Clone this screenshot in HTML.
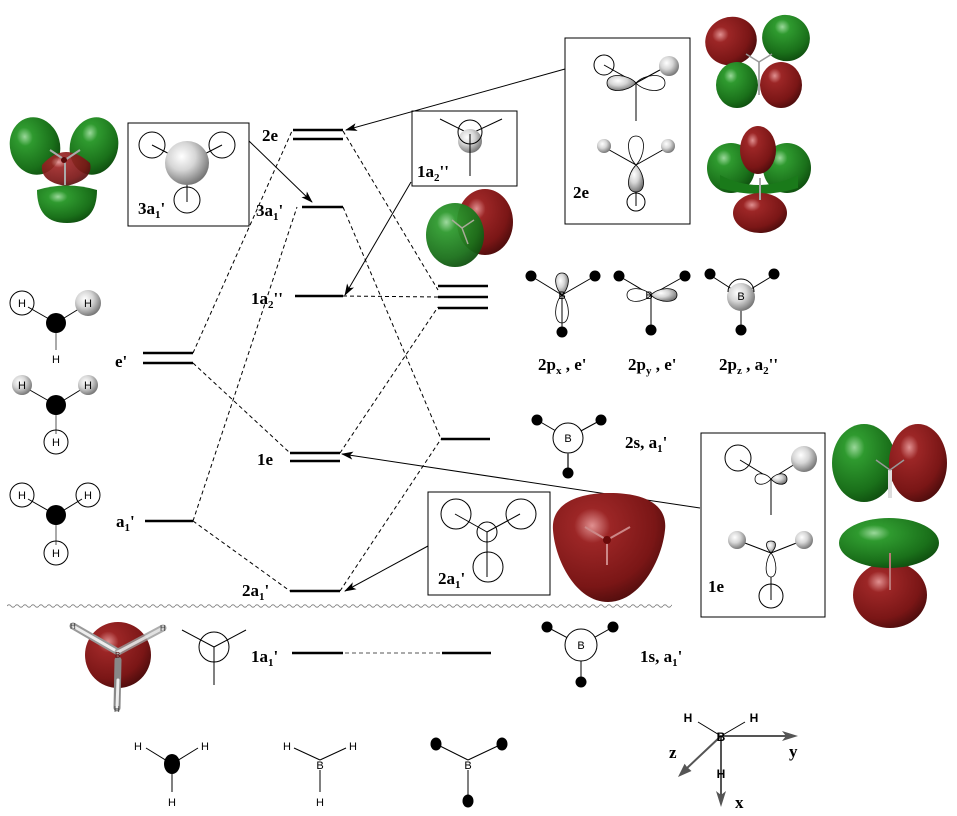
<!DOCTYPE html>
<html><head><meta charset="utf-8">
<style>
html,body{margin:0;padding:0;background:#fff}
svg{display:block}
.L{font-family:"Liberation Serif",serif;font-weight:bold;font-size:17px;fill:#000}
.H{font-family:"Liberation Sans",sans-serif;font-size:11px;fill:#000}
</style></head>
<body>
<svg width="957" height="816" viewBox="0 0 957 816" xmlns="http://www.w3.org/2000/svg">
<defs>
  <radialGradient id="gg" cx="0.35" cy="0.3" r="0.8">
    <stop offset="0" stop-color="#9ad89a"/><stop offset="0.2" stop-color="#2f9a2f"/><stop offset="0.7" stop-color="#1a701a"/><stop offset="1" stop-color="#0c460c"/>
  </radialGradient>
  <radialGradient id="rg" cx="0.35" cy="0.3" r="0.8">
    <stop offset="0" stop-color="#e09090"/><stop offset="0.2" stop-color="#9c2626"/><stop offset="0.7" stop-color="#7a1616"/><stop offset="1" stop-color="#420a0a"/>
  </radialGradient>
  <radialGradient id="gs" cx="0.38" cy="0.35" r="0.7">
    <stop offset="0" stop-color="#ffffff"/><stop offset="0.45" stop-color="#d6d6d6"/><stop offset="1" stop-color="#6e6e6e"/>
  </radialGradient>
  <marker id="ah" markerWidth="12" markerHeight="8" refX="11" refY="4" orient="auto" markerUnits="userSpaceOnUse">
    <path d="M0,0 L12,4 L0,8 L3,4 Z" fill="#000"/>
  </marker>
  <pattern id="wave" x="7" y="603" width="8" height="6" patternUnits="userSpaceOnUse">
    <path d="M0,3 Q2,0.5 4,3 T8,3" fill="none" stroke="#888" stroke-width="1"/>
  </pattern>
</defs>

<!-- ===== top-left 3a1' orbital ===== -->
<ellipse cx="35" cy="146" rx="25" ry="29" fill="url(#gg)" transform="rotate(-15 35 146)"/>
<ellipse cx="94" cy="146" rx="24" ry="29" fill="url(#gg)" transform="rotate(15 94 146)"/>
<path d="M42,165 Q64,140 90,163 Q94,180 66,186 Q40,182 42,165Z" fill="url(#rg)" opacity="0.92"/>
<path d="M37,190 Q37,223 67,223 Q97,223 97,190 Q67,181 37,190Z" fill="url(#gg)"/>
<line x1="65" y1="160" x2="50" y2="150" stroke="#aaa" stroke-width="2"/>
<line x1="65" y1="160" x2="80" y2="150" stroke="#aaa" stroke-width="2"/>
<line x1="65" y1="160" x2="65" y2="185" stroke="#aaa" stroke-width="2"/>
<circle cx="64" cy="160" r="3" fill="#5a0a0a"/>

<!-- 3a1' box -->
<rect x="128" y="123" width="121" height="103" fill="none" stroke="#000" stroke-width="1"/>
<circle cx="152" cy="145" r="13" fill="none" stroke="#000"/>
<circle cx="222" cy="145" r="13" fill="none" stroke="#000"/>
<circle cx="187" cy="200" r="13" fill="none" stroke="#000"/>
<line x1="187" y1="163" x2="152" y2="145" stroke="#000"/>
<line x1="187" y1="163" x2="222" y2="145" stroke="#000"/>
<line x1="187" y1="163" x2="187" y2="202" stroke="#000"/>
<circle cx="187" cy="163" r="22" fill="url(#gs)"/>
<text class="L" x="138" y="214">3a<tspan font-size="11" dy="4">1</tspan><tspan dy="-4">'</tspan></text>

<!-- ===== 1a2'' box ===== -->
<rect x="412" y="111" width="105" height="75" fill="none" stroke="#000"/>
<line x1="470" y1="134" x2="440" y2="119" stroke="#000"/>
<line x1="470" y1="134" x2="502" y2="119" stroke="#000"/>
<circle cx="470" cy="141" r="12" fill="url(#gs)"/>
<circle cx="470" cy="132" r="12" fill="none" stroke="#000"/>
<line x1="470" y1="134" x2="470" y2="176" stroke="#000"/>
<text class="L" x="417" y="177">1a<tspan font-size="11" dy="4">2</tspan><tspan dy="-4">''</tspan></text>

<!-- 1a2'' orbital -->
<ellipse cx="485" cy="222" rx="28" ry="33" fill="url(#rg)"/>
<ellipse cx="455" cy="235" rx="29" ry="32" fill="url(#gg)" opacity="0.95"/>
<line x1="462" y1="228" x2="452" y2="220" stroke="#aa9" stroke-width="1.5"/>
<line x1="462" y1="228" x2="474" y2="220" stroke="#aa9" stroke-width="1.5"/>
<line x1="462" y1="228" x2="468" y2="244" stroke="#aa9" stroke-width="1.5"/>

<!-- ===== 2e box ===== -->
<rect x="565" y="38" width="125" height="186" fill="none" stroke="#000"/>
<circle cx="604" cy="65" r="10" fill="none" stroke="#000"/>
<line x1="636" y1="83" x2="604" y2="65" stroke="#000"/>
<line x1="636" y1="83" x2="669" y2="65" stroke="#000"/>
<circle cx="669" cy="66" r="10" fill="url(#gs)"/>
<line x1="636" y1="83" x2="636" y2="121" stroke="#000"/>
<path d="M636,83 C628,74 607,72 607,83 C607,94 628,92 636,83Z" fill="url(#gs)" stroke="#000" stroke-width="0.8"/>
<path d="M636,83 C644,74 665,72 665,83 C665,94 644,92 636,83Z" fill="none" stroke="#000" stroke-width="0.8"/>
<line x1="636" y1="165" x2="604" y2="147" stroke="#000"/>
<line x1="636" y1="165" x2="668" y2="147" stroke="#000"/>
<circle cx="604" cy="146" r="7" fill="url(#gs)"/>
<circle cx="668" cy="146" r="7" fill="url(#gs)"/>
<path d="M636,165 C627,156 625,136 636,136 C647,136 645,156 636,165Z" fill="#fff" stroke="#000" stroke-width="0.8"/>
<path d="M636,165 C627,174 625,192 636,192 C647,192 645,174 636,165Z" fill="url(#gs)" stroke="#000" stroke-width="0.8"/>
<line x1="636" y1="192" x2="636" y2="206" stroke="#000"/>
<circle cx="636" cy="202" r="9" fill="none" stroke="#000"/>
<text class="L" x="573" y="198">2e</text>

<!-- 2e orbitals -->
<ellipse cx="731" cy="41" rx="26" ry="24" fill="url(#rg)" transform="rotate(-20 731 41)"/>
<ellipse cx="786" cy="38" rx="24" ry="23" fill="url(#gg)" transform="rotate(20 786 38)"/>
<ellipse cx="737" cy="85" rx="21" ry="23" fill="url(#gg)"/>
<ellipse cx="781" cy="85" rx="21" ry="23" fill="url(#rg)"/>
<line x1="759" y1="62" x2="759" y2="95" stroke="#aaa" stroke-width="2"/>
<line x1="759" y1="62" x2="746" y2="54" stroke="#999" stroke-width="1.5"/>
<line x1="759" y1="62" x2="772" y2="54" stroke="#999" stroke-width="1.5"/>

<ellipse cx="731" cy="168" rx="24" ry="25" fill="url(#gg)"/>
<ellipse cx="787" cy="168" rx="24" ry="25" fill="url(#gg)"/>
<path d="M720,175 Q758,195 798,175 L798,188 Q758,200 720,188Z" fill="#1a7a1a"/>
<ellipse cx="760" cy="213" rx="27" ry="20" fill="url(#rg)"/>
<ellipse cx="758" cy="150" rx="18" ry="24" fill="url(#rg)"/>
<line x1="760" y1="178" x2="760" y2="200" stroke="#aaa" stroke-width="2"/>

<!-- ===== levels ===== -->
<g stroke="#000" stroke-width="2.5">
  <line x1="293" y1="130" x2="343" y2="130"/>
  <line x1="293" y1="139" x2="343" y2="139"/>
  <line x1="302" y1="207" x2="343" y2="207"/>
  <line x1="295" y1="296" x2="343" y2="296"/>
  <line x1="290" y1="453" x2="340" y2="453"/>
  <line x1="290" y1="461" x2="340" y2="461"/>
  <line x1="290" y1="591" x2="340" y2="591"/>
  <line x1="143" y1="353" x2="193" y2="353"/>
  <line x1="143" y1="363" x2="193" y2="363"/>
  <line x1="145" y1="521" x2="193" y2="521"/>
  <line x1="438" y1="286" x2="488" y2="286"/>
  <line x1="438" y1="297" x2="488" y2="297"/>
  <line x1="438" y1="308" x2="488" y2="308"/>
  <line x1="441" y1="439" x2="490" y2="439"/>
  <line x1="292" y1="653" x2="343" y2="653"/>
  <line x1="442" y1="653" x2="491" y2="653"/>
</g>

<!-- dashed connectors -->
<g stroke="#000" stroke-width="1" stroke-dasharray="4 3" fill="none">
  <line x1="193" y1="353" x2="292" y2="131"/>
  <line x1="193" y1="363" x2="290" y2="453"/>
  <line x1="193" y1="521" x2="297" y2="207"/>
  <line x1="193" y1="521" x2="290" y2="591"/>
  <line x1="343" y1="131" x2="438" y2="290"/>
  <line x1="343" y1="207" x2="441" y2="439"/>
  <line x1="343" y1="296" x2="438" y2="297"/>
  <line x1="340" y1="453" x2="438" y2="307"/>
  <line x1="340" y1="591" x2="441" y2="439"/>
  <line x1="345" y1="653" x2="440" y2="653" stroke="#555"/>
</g>

<!-- arrows -->
<g stroke="#000" stroke-width="1" marker-end="url(#ah)">
  <line x1="565" y1="69" x2="346" y2="130"/>
  <line x1="249" y1="141" x2="312" y2="202"/>
  <line x1="411" y1="182" x2="345" y2="295"/>
  <line x1="700" y1="508" x2="342" y2="454"/>
  <line x1="428" y1="546" x2="345" y2="591"/>
</g>

<!-- level labels -->
<text class="L" x="262" y="141">2e</text>
<text class="L" x="256" y="216">3a<tspan font-size="11" dy="4">1</tspan><tspan dy="-4">'</tspan></text>
<text class="L" x="251" y="304">1a<tspan font-size="11" dy="4">2</tspan><tspan dy="-4">''</tspan></text>
<text class="L" x="257" y="465">1e</text>
<text class="L" x="242" y="596">2a<tspan font-size="11" dy="4">1</tspan><tspan dy="-4">'</tspan></text>
<text class="L" x="251" y="662">1a<tspan font-size="11" dy="4">1</tspan><tspan dy="-4">'</tspan></text>
<text class="L" x="115" y="367">e'</text>
<text class="L" x="116" y="527">a<tspan font-size="11" dy="4">1</tspan><tspan dy="-4">'</tspan></text>

<!-- ===== left H3 fragments ===== -->
<g stroke="#000" stroke-width="1">
  <line x1="56" y1="323" x2="28" y2="307"/><line x1="56" y1="323" x2="82" y2="307"/><line x1="56" y1="323" x2="56" y2="350" stroke="#555"/>
  <line x1="56" y1="405" x2="28" y2="389"/><line x1="56" y1="405" x2="82" y2="389"/><line x1="56" y1="405" x2="56" y2="434" stroke="#555"/>
  <line x1="56" y1="515" x2="28" y2="499"/><line x1="56" y1="515" x2="82" y2="499"/><line x1="56" y1="515" x2="56" y2="545" stroke="#555"/>
</g>
<circle cx="22" cy="303" r="12" fill="none" stroke="#000"/>
<circle cx="88" cy="303" r="13" fill="url(#gs)"/>
<circle cx="56" cy="323" r="10" fill="#000"/>
<text class="H" x="22" y="307" text-anchor="middle">H</text>
<text class="H" x="88" y="307" text-anchor="middle">H</text>
<text class="H" x="56" y="363" text-anchor="middle">H</text>

<circle cx="22" cy="385" r="10" fill="url(#gs)"/>
<circle cx="88" cy="385" r="10" fill="url(#gs)"/>
<circle cx="56" cy="442" r="12" fill="none" stroke="#000"/>
<circle cx="56" cy="405" r="10" fill="#000"/>
<text class="H" x="22" y="389" text-anchor="middle">H</text>
<text class="H" x="88" y="389" text-anchor="middle">H</text>
<text class="H" x="56" y="446" text-anchor="middle">H</text>

<circle cx="22" cy="495" r="12" fill="none" stroke="#000"/>
<circle cx="88" cy="495" r="12" fill="none" stroke="#000"/>
<circle cx="56" cy="553" r="12" fill="none" stroke="#000"/>
<circle cx="56" cy="515" r="10" fill="#000"/>
<text class="H" x="22" y="499" text-anchor="middle">H</text>
<text class="H" x="88" y="499" text-anchor="middle">H</text>
<text class="H" x="56" y="557" text-anchor="middle">H</text>

<!-- ===== boron p orbitals ===== -->
<!-- 2px -->
<g stroke="#000" stroke-width="1">
  <line x1="562" y1="295" x2="531" y2="276"/><line x1="562" y1="295" x2="595" y2="276"/><line x1="562" y1="295" x2="562" y2="332"/>
</g>
<path d="M562,295 C554,302 553,323 562,323 C571,323 570,302 562,295Z" fill="#fff" stroke="#000" stroke-width="0.8"/>
<line x1="562" y1="295" x2="562" y2="332" stroke="#000"/>
<path d="M562,295 C554,288 553,273 562,273 C571,273 570,288 562,295Z" fill="url(#gs)" stroke="#000" stroke-width="0.8"/>
<circle cx="531" cy="276" r="5.5" fill="#000"/><circle cx="595" cy="276" r="5.5" fill="#000"/><circle cx="562" cy="332" r="5.5" fill="#000"/>
<text class="H" x="562" y="299" text-anchor="middle">B</text>
<!-- 2py -->
<g stroke="#000" stroke-width="1">
  <line x1="651" y1="295" x2="619" y2="276"/><line x1="651" y1="295" x2="685" y2="276"/><line x1="651" y1="295" x2="651" y2="330"/>
</g>
<path d="M651,295 C644,287 627,286 627,295 C627,304 644,303 651,295Z" fill="#fff" stroke="#000" stroke-width="0.8"/>
<path d="M651,295 C658,287 677,286 677,295 C677,304 658,303 651,295Z" fill="url(#gs)" stroke="#000" stroke-width="0.8"/>
<circle cx="619" cy="276" r="5.5" fill="#000"/><circle cx="685" cy="276" r="5.5" fill="#000"/><circle cx="651" cy="330" r="5.5" fill="#000"/>
<text class="H" x="649" y="299" text-anchor="middle">B</text>
<!-- 2pz -->
<g stroke="#000" stroke-width="1">
  <line x1="741" y1="295" x2="710" y2="275"/><line x1="741" y1="295" x2="774" y2="275"/><line x1="741" y1="295" x2="741" y2="330"/>
</g>
<circle cx="741" cy="297" r="14" fill="url(#gs)"/>
<path d="M728,292 A13,13 0 0 1 754,292" fill="none" stroke="#000"/>
<circle cx="710" cy="274" r="5.5" fill="#000"/><circle cx="774" cy="274" r="5.5" fill="#000"/><circle cx="741" cy="330" r="5.5" fill="#000"/>
<text class="H" x="741" y="300" text-anchor="middle">B</text>

<text class="L" x="538" y="370">2p<tspan font-size="11" dy="4">x</tspan><tspan dy="-4"> , e'</tspan></text>
<text class="L" x="628" y="370">2p<tspan font-size="11" dy="4">y</tspan><tspan dy="-4"> , e'</tspan></text>
<text class="L" x="719" y="370">2p<tspan font-size="11" dy="4">z</tspan><tspan dy="-4"> , a</tspan><tspan font-size="11" dy="4">2</tspan><tspan dy="-4">''</tspan></text>

<!-- 2s -->
<g stroke="#000" stroke-width="1">
  <line x1="568" y1="438" x2="537" y2="420"/><line x1="568" y1="438" x2="601" y2="420"/><line x1="568" y1="438" x2="568" y2="473" stroke="#555" stroke-width="1.5"/>
</g>
<circle cx="568" cy="438" r="15" fill="#fff" stroke="#000"/>
<line x1="568" y1="453" x2="568" y2="473" stroke="#555" stroke-width="1.5"/>
<circle cx="537" cy="420" r="5.5" fill="#000"/><circle cx="601" cy="420" r="5.5" fill="#000"/><circle cx="568" cy="473" r="5.5" fill="#000"/>
<text class="H" x="568" y="442" text-anchor="middle">B</text>
<text class="L" x="625" y="448">2s, a<tspan font-size="11" dy="4">1</tspan><tspan dy="-4">'</tspan></text>

<!-- ===== 2a1' box ===== -->
<rect x="428" y="492" width="122" height="103" fill="none" stroke="#000"/>
<circle cx="456" cy="514" r="15" fill="none" stroke="#000"/>
<circle cx="521" cy="514" r="15" fill="none" stroke="#000"/>
<circle cx="487" cy="532" r="10" fill="none" stroke="#000"/>
<circle cx="488" cy="567" r="15" fill="none" stroke="#000"/>
<line x1="487" y1="532" x2="455" y2="514" stroke="#000"/>
<line x1="487" y1="532" x2="520" y2="514" stroke="#000"/>
<line x1="487" y1="532" x2="487" y2="577" stroke="#000"/>
<text class="L" x="438" y="584">2a<tspan font-size="11" dy="4">1</tspan><tspan dy="-4">'</tspan></text>

<!-- big red 2a1' orbital -->
<path d="M610,493 C645,493 668,505 665,530 C662,560 640,602 608,602 C576,602 555,560 553,530 C551,505 575,493 610,493Z" fill="url(#rg)"/>
<line x1="607" y1="540" x2="585" y2="527" stroke="#c88" stroke-width="2"/>
<line x1="607" y1="540" x2="630" y2="527" stroke="#c88" stroke-width="2"/>
<line x1="607" y1="540" x2="607" y2="565" stroke="#c88" stroke-width="2"/>
<circle cx="607" cy="540" r="4" fill="#6a0a0a"/>

<!-- ===== 1e box ===== -->
<rect x="701" y="433" width="124" height="184" fill="none" stroke="#000"/>
<circle cx="738" cy="458" r="13" fill="none" stroke="#000"/>
<line x1="771" y1="479" x2="740" y2="460" stroke="#000"/>
<line x1="771" y1="479" x2="803" y2="459" stroke="#000"/>
<circle cx="804" cy="459" r="13" fill="url(#gs)"/>
<line x1="771" y1="479" x2="771" y2="515" stroke="#000"/>
<path d="M771,479 C765,472 755,472 755,479 C755,486 765,486 771,479Z" fill="#fff" stroke="#000" stroke-width="0.8"/>
<path d="M771,479 C777,472 787,472 787,479 C787,486 777,486 771,479Z" fill="url(#gs)" stroke="#000" stroke-width="0.8"/>

<line x1="771" y1="553" x2="737" y2="540" stroke="#000"/>
<line x1="771" y1="553" x2="804" y2="540" stroke="#000"/>
<circle cx="737" cy="540" r="9" fill="url(#gs)"/>
<circle cx="804" cy="540" r="9" fill="url(#gs)"/>
<path d="M771,553 C765,547 765,541 771,541 C777,541 777,547 771,553Z" fill="url(#gs)" stroke="#000" stroke-width="0.8"/>
<path d="M771,553 C765,560 764,577 771,577 C778,577 777,560 771,553Z" fill="#fff" stroke="#000" stroke-width="0.8"/>
<line x1="771" y1="577" x2="771" y2="600" stroke="#000"/>
<circle cx="771" cy="596" r="12" fill="none" stroke="#000"/>
<text class="L" x="708" y="592">1e</text>

<!-- 1e orbitals -->
<ellipse cx="864" cy="463" rx="32" ry="39" fill="url(#gg)"/>
<ellipse cx="918" cy="463" rx="29" ry="39" fill="url(#rg)"/>
<line x1="890" y1="470" x2="890" y2="498" stroke="#ddd" stroke-width="4"/>
<line x1="890" y1="470" x2="876" y2="460" stroke="#999" stroke-width="1.5"/>
<line x1="890" y1="470" x2="904" y2="460" stroke="#999" stroke-width="1.5"/>
<ellipse cx="890" cy="595" rx="37" ry="33" fill="url(#rg)"/>
<ellipse cx="889" cy="543" rx="50" ry="25" fill="url(#gg)"/>
<line x1="890" y1="553" x2="890" y2="590" stroke="#b77" stroke-width="2"/>

<!-- wavy separator -->
<rect x="7" y="603" width="665" height="6" fill="url(#wave)"/>

<!-- ===== 1a1' row ===== -->
<circle cx="118" cy="655" r="33" fill="url(#rg)"/>
<g stroke-linecap="round">
  <line x1="118" y1="652" x2="73" y2="626" stroke="#999" stroke-width="7"/>
  <line x1="118" y1="652" x2="73" y2="626" stroke="#eee" stroke-width="3"/>
  <line x1="118" y1="652" x2="163" y2="628" stroke="#999" stroke-width="7" opacity="0.8"/>
  <line x1="118" y1="652" x2="163" y2="628" stroke="#eee" stroke-width="3" opacity="0.8"/>
  <line x1="118" y1="660" x2="117" y2="708" stroke="#888" stroke-width="7"/>
  <line x1="118" y1="680" x2="117" y2="708" stroke="#eee" stroke-width="3"/>
</g>
<text x="70" y="629" font-family="Liberation Sans,sans-serif" font-size="8" fill="#333">H</text>
<text x="160" y="631" font-family="Liberation Sans,sans-serif" font-size="8" fill="#333">H</text>
<text x="114" y="712" font-family="Liberation Sans,sans-serif" font-size="8" fill="#333">H</text>
<text x="115" y="658" font-family="Liberation Sans,sans-serif" font-size="8" fill="#511">B</text>

<circle cx="214" cy="647" r="15" fill="none" stroke="#000"/>
<line x1="214" y1="647" x2="182" y2="630" stroke="#000"/>
<line x1="214" y1="647" x2="246" y2="630" stroke="#000"/>
<line x1="214" y1="647" x2="214" y2="685" stroke="#000"/>

<!-- 1s B -->
<g stroke="#000" stroke-width="1">
  <line x1="581" y1="645" x2="547" y2="627"/><line x1="581" y1="645" x2="613" y2="627"/><line x1="581" y1="645" x2="581" y2="682"/>
</g>
<circle cx="581" cy="645" r="16" fill="#fff" stroke="#000"/>
<line x1="581" y1="661" x2="581" y2="682" stroke="#000"/>
<circle cx="547" cy="627" r="5.5" fill="#000"/><circle cx="613" cy="627" r="5.5" fill="#000"/><circle cx="581" cy="682" r="5.5" fill="#000"/>
<text class="H" x="581" y="649" text-anchor="middle">B</text>
<text class="L" x="640" y="662">1s, a<tspan font-size="11" dy="4">1</tspan><tspan dy="-4">'</tspan></text>

<!-- ===== bottom fragments ===== -->
<g stroke="#000" stroke-width="1">
  <line x1="172" y1="764" x2="146" y2="748"/><line x1="172" y1="764" x2="198" y2="748"/><line x1="172" y1="764" x2="172" y2="792"/>
  <line x1="320" y1="760" x2="294" y2="748"/><line x1="320" y1="760" x2="346" y2="748"/><line x1="320" y1="770" x2="320" y2="792"/>
  <line x1="468" y1="760" x2="436" y2="744"/><line x1="468" y1="760" x2="502" y2="744"/>
</g>
<line x1="468" y1="770" x2="468" y2="800" stroke="#555" stroke-width="1.5"/>
<ellipse cx="172" cy="764" rx="8" ry="10" fill="#000"/>
<text class="H" x="138" y="750" text-anchor="middle">H</text>
<text class="H" x="205" y="750" text-anchor="middle">H</text>
<text class="H" x="172" y="806" text-anchor="middle">H</text>
<text class="H" x="320" y="769" text-anchor="middle">B</text>
<text class="H" x="287" y="750" text-anchor="middle">H</text>
<text class="H" x="353" y="750" text-anchor="middle">H</text>
<text class="H" x="320" y="806" text-anchor="middle">H</text>
<text class="H" x="468" y="769" text-anchor="middle">B</text>
<ellipse cx="436" cy="744" rx="5.5" ry="6.5" fill="#000"/>
<ellipse cx="502" cy="744" rx="5.5" ry="6.5" fill="#000"/>
<ellipse cx="468" cy="801" rx="5.5" ry="6.5" fill="#000"/>

<!-- ===== axes ===== -->
<line x1="721" y1="736" x2="698" y2="722" stroke="#000"/>
<line x1="721" y1="736" x2="745" y2="722" stroke="#000"/>
<g stroke="#555" stroke-width="2">
  <line x1="721" y1="736" x2="788" y2="736"/>
  <line x1="721" y1="736" x2="721" y2="796"/>
  <line x1="721" y1="736" x2="686" y2="769"/>
</g>
<polygon points="798,736 782,731 786,736 782,741" fill="#555"/>
<polygon points="721,807 716,791 721,795 726,791" fill="#555"/>
<polygon points="678,777 691.5,771 687,767 684.6,763.7" fill="#555"/>
<text x="688" y="722" font-family="Liberation Sans,sans-serif" font-size="12" font-weight="bold" text-anchor="middle">H</text>
<text x="754" y="722" font-family="Liberation Sans,sans-serif" font-size="12" font-weight="bold" text-anchor="middle">H</text>
<text x="721" y="741" font-family="Liberation Sans,sans-serif" font-size="12" font-weight="bold" text-anchor="middle">B</text>
<text x="721" y="778" font-family="Liberation Sans,sans-serif" font-size="12" font-weight="bold" text-anchor="middle">H</text>
<text class="L" x="789" y="757">y</text>
<text class="L" x="735" y="808">x</text>
<text class="L" x="669" y="758">z</text>
</svg>
</body></html>
